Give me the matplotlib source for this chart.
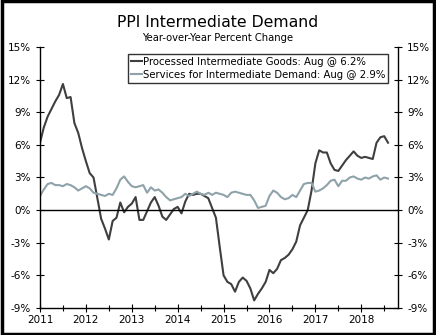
import numpy as np
import matplotlib
matplotlib.use("Agg")
import matplotlib.pyplot as plt
from matplotlib.patches import Rectangle
from matplotlib.ticker import FuncFormatter, MultipleLocator

# monthly, Jan 2011 .. Aug 2018
goods = [6.2, 7.6, 8.6, 9.3, 10.0, 10.6, 11.6, 10.3, 10.4, 8.0, 7.1, 5.7,
         4.5, 3.4, 3.0, 1.1, -0.8, -1.7, -2.7, -1.0, -0.7, 0.7, -0.2, 0.3,
         0.6, 1.2, -0.9, -0.9, -0.1, 0.7, 1.2, 0.4, -0.6, -0.9, -0.4, 0.1,
         0.3, -0.3, 0.8, 1.5, 1.4, 1.5, 1.5, 1.3, 1.1, 0.2, -0.7, -3.4,
         -6.0, -6.6, -6.8, -7.5, -6.6, -6.2, -6.5, -7.2, -8.3, -7.7, -7.2, -6.6,
         -5.5, -5.8, -5.4, -4.6, -4.4, -4.1, -3.6, -2.9, -1.4, -0.7, 0.0, 1.8,
         4.3, 5.5, 5.3, 5.3, 4.3, 3.7, 3.6, 4.1, 4.6, 5.0, 5.4, 5.0,
         4.8, 4.9, 4.8, 4.7, 6.2, 6.7, 6.8, 6.2]
services = [1.3, 1.9, 2.4, 2.5, 2.3, 2.3, 2.2, 2.4, 2.3, 2.1, 1.8, 2.0,
            2.2, 2.0, 1.6, 1.5, 1.4, 1.3, 1.5, 1.4, 2.0, 2.8, 3.1, 2.6,
            2.2, 2.1, 2.2, 2.3, 1.6, 2.1, 1.8, 1.9, 1.6, 1.2, 0.9, 1.0,
            1.1, 1.2, 1.5, 1.3, 1.5, 1.7, 1.5, 1.4, 1.6, 1.4, 1.6, 1.5,
            1.4, 1.2, 1.6, 1.7, 1.6, 1.5, 1.4, 1.4, 0.9, 0.2, 0.3, 0.4,
            1.3, 1.8, 1.6, 1.2, 1.0, 1.1, 1.4, 1.2, 1.8, 2.4, 2.5, 2.5,
            1.7, 1.8, 2.0, 2.3, 2.7, 2.8, 2.2, 2.7, 2.7, 3.0, 3.1, 2.9,
            2.8, 3.0, 2.9, 3.1, 3.2, 2.8, 3.0, 2.9]
years = [2011, 2012, 2013, 2014, 2015, 2016, 2017, 2018]
labels = ["Processed Intermediate Goods: Aug @ 6.2%",
          "Services for Intermediate Demand: Aug @ 2.9%"]

t = 2011 + np.arange(len(goods)) / 12.0

fig = plt.figure(figsize=(4.36, 3.35), dpi=100)
ax = fig.add_axes([0.0917, 0.0806, 0.8211, 0.7791])

ax.plot(t, goods, color="#3f3f3f", lw=1.5, label=labels[0])
ax.plot(t, services, color="#8fa2aa", lw=1.5, label=labels[1])
ax.axhline(0, color="black", lw=1)

ax.set_xlim(2011, 2018.8)
ax.set_ylim(-9, 15)
ax.set_xticks(years)
ax.set_xticklabels([str(y) for y in years])
ax.xaxis.set_minor_locator(MultipleLocator(0.5))
ax.yaxis.set_major_locator(MultipleLocator(3))
ax.yaxis.set_major_formatter(FuncFormatter(lambda v, p: f"{v:.0f}%"))
ax.tick_params(which="both", direction="inout", labelsize=7.5, width=0.8,
               right=True, labelright=True)
ax.tick_params(which="major", length=6)
ax.tick_params(which="minor", length=4)
ax.tick_params(axis="x", pad=2)
ax.spines["top"].set_visible(False)
for s in ["left", "right", "bottom"]:
    ax.spines[s].set_linewidth(1)

leg = ax.legend(loc="upper right", bbox_to_anchor=(0.972, 0.975), fontsize=7.3,
                frameon=True, fancybox=False, handlelength=1.0, handletextpad=0.1,
                borderpad=0.3, labelspacing=0.3, borderaxespad=0)
leg.get_frame().set_edgecolor("black")
leg.get_frame().set_linewidth(1)

fig.text(0.5, 0.934, "PPI Intermediate Demand", ha="center", va="center", fontsize=11.3)
fig.text(0.5, 0.888, "Year-over-Year Percent Change", ha="center", va="center", fontsize=7.2)

fig.patches.append(Rectangle((0.004, 0.004), 0.992, 0.992, transform=fig.transFigure,
                             fill=False, edgecolor="black", lw=2.5))

fig.savefig("out.png", dpi=100)
